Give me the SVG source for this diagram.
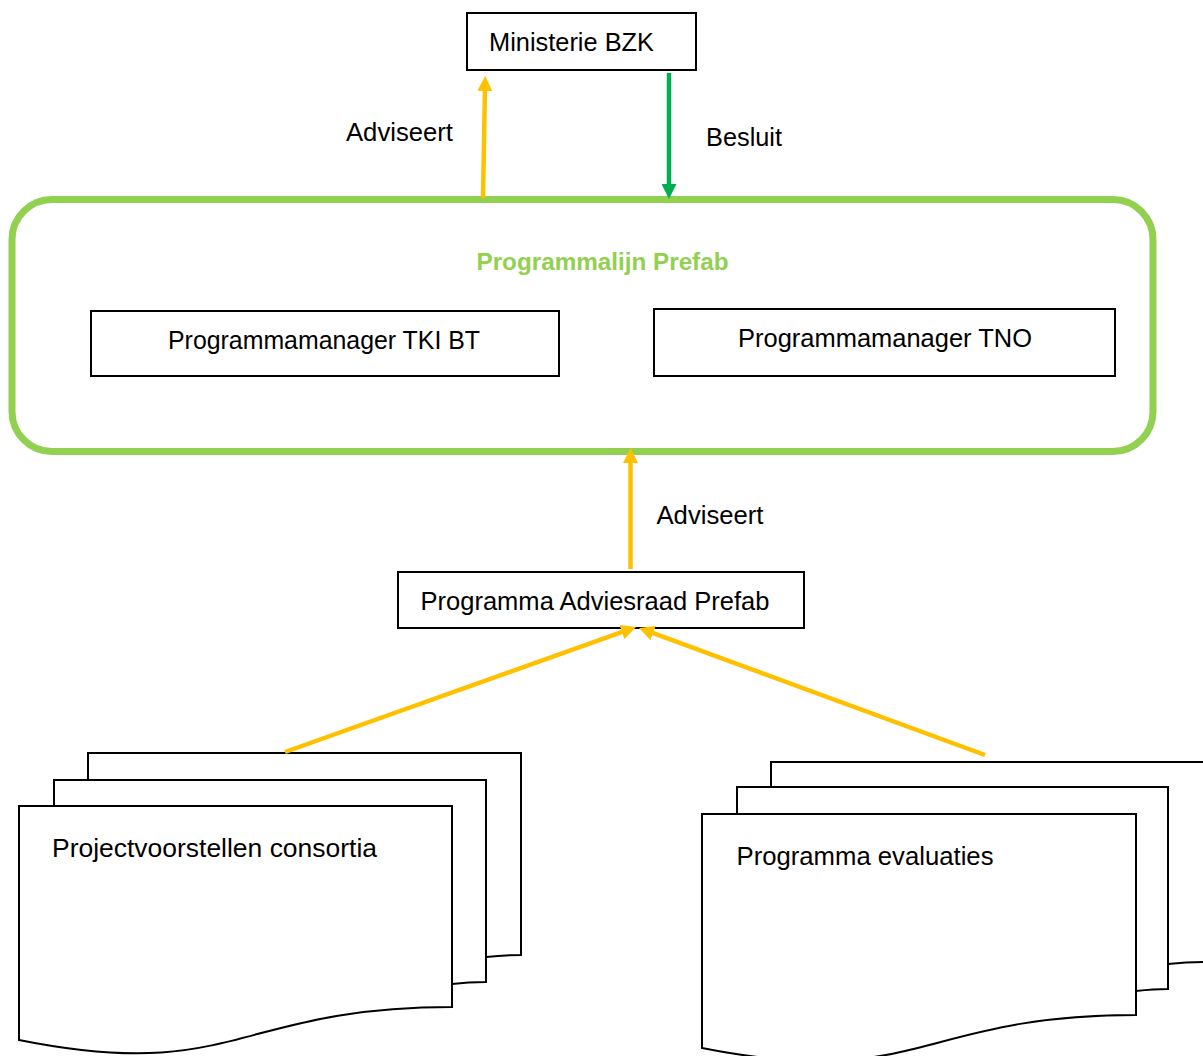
<svg xmlns="http://www.w3.org/2000/svg" width="1203" height="1056" viewBox="0 0 1203 1056">
  <style>
    .box { fill: #ffffff; stroke: #000000; stroke-width: 2; }
    .doc { fill: #ffffff; stroke: #000000; stroke-width: 2; stroke-linejoin: miter; }
    .lbl { font-family: "Liberation Sans", Arial, sans-serif; font-size: 25px; fill: #000000; }
    .title { font-family: "Liberation Sans", Arial, sans-serif; font-size: 24px; font-weight: bold; fill: #92D050; }
    .yel { stroke: #FFC000; stroke-width: 4.5; fill: none; marker-end: url(#headY); }
    .grn { stroke: #00B050; stroke-width: 4.5; fill: none; marker-end: url(#headG); }
  </style>
  <defs>
    <marker id="headY" viewBox="0 0 15 15" refX="5" refY="7.5" markerWidth="15" markerHeight="15" markerUnits="userSpaceOnUse" orient="auto">
      <path d="M0,0 L15,7.5 L0,15 Z" fill="#FFC000"/>
    </marker>
    <marker id="headG" viewBox="0 0 15 15" refX="5" refY="7.5" markerWidth="15" markerHeight="15" markerUnits="userSpaceOnUse" orient="auto">
      <path d="M0,0 L15,7.5 L0,15 Z" fill="#00B050"/>
    </marker>
  </defs>
  <rect width="1203" height="1056" fill="#ffffff"/>

  <g id="programmalijn">
    <rect x="12" y="199.5" width="1141" height="252" rx="40" ry="40" fill="#ffffff" stroke="#92D050" stroke-width="7"/>
    <text class="title" x="476.5" y="270" textLength="252" lengthAdjust="spacingAndGlyphs">Programmalijn Prefab</text>
  </g>

  <g id="ministerie">
    <rect class="box" x="467" y="13" width="229" height="57"/>
    <text class="lbl" x="489" y="51" textLength="165" lengthAdjust="spacingAndGlyphs">Ministerie BZK</text>
  </g>

  <g id="pm-tki">
    <rect class="box" x="91" y="311" width="468" height="65"/>
    <text class="lbl" x="168" y="348.5" textLength="312" lengthAdjust="spacingAndGlyphs">Programmamanager TKI BT</text>
  </g>

  <g id="pm-tno">
    <rect class="box" x="654" y="309" width="461" height="67"/>
    <text class="lbl" x="738" y="347" textLength="294" lengthAdjust="spacingAndGlyphs">Programmamanager TNO</text>
  </g>

  <g id="adviesraad">
    <rect class="box" x="398" y="572" width="406" height="56"/>
    <text class="lbl" x="420.5" y="609.5" textLength="349" lengthAdjust="spacingAndGlyphs">Programma Adviesraad Prefab</text>
  </g>

  <g id="projectvoorstellen">
    <path class="doc" d="M88,780 V753 H521 V955 C505,955 495,956 486,957"/>
    <path class="doc" d="M54,806 V780 H486 V982 C470,982 460,983 452,984"/>
    <path class="doc" d="M19,806 H452 V1007 C235.5,1007 235.5,1083.5 19,1040 Z"/>
    <text class="lbl" x="52" y="857" textLength="325" lengthAdjust="spacingAndGlyphs">Projectvoorstellen consortia</text>
  </g>

  <g id="evaluaties">
    <path class="doc" d="M771,787 V762 H1206 V962 C1190,962 1178,963 1168,964"/>
    <path class="doc" d="M737,814 V787 H1168 V989 C1155,989 1145,990 1136,991"/>
    <path class="doc" d="M702,814 H1136 V1015 C919,1015 919,1091 702,1048 Z"/>
    <text class="lbl" x="736.5" y="865" textLength="257" lengthAdjust="spacingAndGlyphs">Programma evaluaties</text>
  </g>

  <g id="connectors">
    <line class="yel" x1="483" y1="198" x2="485" y2="86"/>
    <line class="grn" x1="669" y1="73" x2="669" y2="189"/>
    <line class="yel" x1="630.5" y1="569" x2="630.5" y2="458"/>
    <line class="yel" x1="285" y1="752" x2="626.6" y2="630.4"/>
    <line class="yel" x1="985" y1="755" x2="648.4" y2="631.4"/>
    <text class="lbl" x="346" y="141" textLength="107" lengthAdjust="spacingAndGlyphs">Adviseert</text>
    <text class="lbl" x="706" y="146" textLength="76" lengthAdjust="spacingAndGlyphs">Besluit</text>
    <text class="lbl" x="656.5" y="523.5" textLength="107" lengthAdjust="spacingAndGlyphs">Adviseert</text>
  </g>
</svg>
